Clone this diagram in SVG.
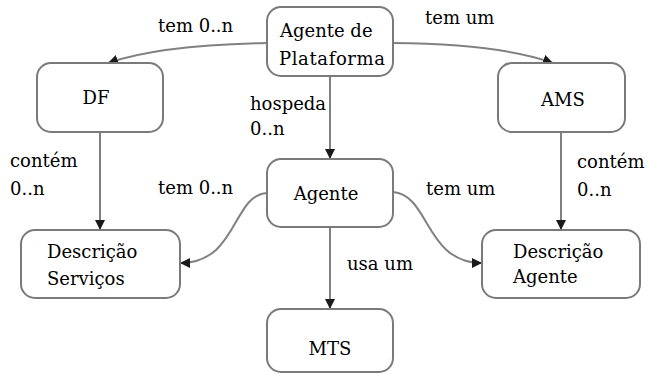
<svg xmlns="http://www.w3.org/2000/svg" width="649" height="375" viewBox="0 0 649 375">
  <defs>
    <marker id="arrow" viewBox="0 0 10 10" refX="10" refY="5" markerWidth="10" markerHeight="10" markerUnits="userSpaceOnUse" orient="auto">
      <path d="M0,0 L10,5 L0,10 Z" fill="#1a1a1a"/>
    </marker>
    <style>
      .box { fill: #ffffff; stroke: #7a7a7a; stroke-width: 2; }
      .edge { fill: none; stroke: #808080; stroke-width: 2; marker-end: url(#arrow); }
      text { font-family: "DejaVu Serif", "Liberation Serif", serif; font-size: 18px; fill: #000000; }
      .mid { text-anchor: middle; }
    </style>
  </defs>
  <rect width="649" height="375" fill="#ffffff"/>

  <!-- connectors -->
  <g id="connectors">
    <path class="edge" d="M267,43 Q160,45 108,63"/>
    <path class="edge" d="M393,43 Q500,44 553,63"/>
    <path class="edge" d="M330,76 L330,159"/>
    <path class="edge" d="M100,132 L100,230"/>
    <path class="edge" d="M561,132 L561,230"/>
    <path class="edge" d="M267,193 C232,195 238,263 180,263"/>
    <path class="edge" d="M393,192 C430,195 425,263 482,263"/>
    <path class="edge" d="M330,227 L330,309"/>
  </g>

  <!-- connector labels -->
  <g id="labels">
    <text x="158" y="32">tem 0..n</text>
    <text x="425" y="24">tem um</text>
    <text x="250" y="110">hospeda</text>
    <text x="250" y="135">0..n</text>
    <text x="10" y="167">contém</text>
    <text x="10" y="195">0..n</text>
    <text x="577" y="168">contém</text>
    <text x="577" y="196">0..n</text>
    <text x="158" y="194">tem 0..n</text>
    <text x="426" y="195">tem um</text>
    <text x="347" y="270">usa um</text>
  </g>

  <!-- nodes -->
  <g id="node-plataforma">
    <rect class="box" x="267" y="7" width="126" height="69" rx="14"/>
    <text x="280" y="37">Agente de</text>
    <text x="279" y="65" textLength="106" lengthAdjust="spacing">Plataforma</text>
  </g>
  <g id="node-df">
    <rect class="box" x="37" y="63" width="126" height="69" rx="14"/>
    <text class="mid" x="96" y="104">DF</text>
  </g>
  <g id="node-ams">
    <rect class="box" x="498" y="63" width="127" height="69" rx="14"/>
    <text class="mid" x="563" y="106">AMS</text>
  </g>
  <g id="node-agente">
    <rect class="box" x="267" y="159" width="126" height="68" rx="14"/>
    <text class="mid" x="326" y="200">Agente</text>
  </g>
  <g id="node-descricao-servicos">
    <rect class="box" x="21" y="230" width="159" height="68" rx="14"/>
    <text x="47" y="258">Descrição</text>
    <text x="47" y="285">Serviços</text>
  </g>
  <g id="node-descricao-agente">
    <rect class="box" x="482" y="230" width="158" height="68" rx="14"/>
    <text x="513" y="258">Descrição</text>
    <text x="513" y="283">Agente</text>
  </g>
  <g id="node-mts">
    <rect class="box" x="267" y="309" width="126" height="63" rx="14"/>
    <text class="mid" x="330" y="355">MTS</text>
  </g>
</svg>
